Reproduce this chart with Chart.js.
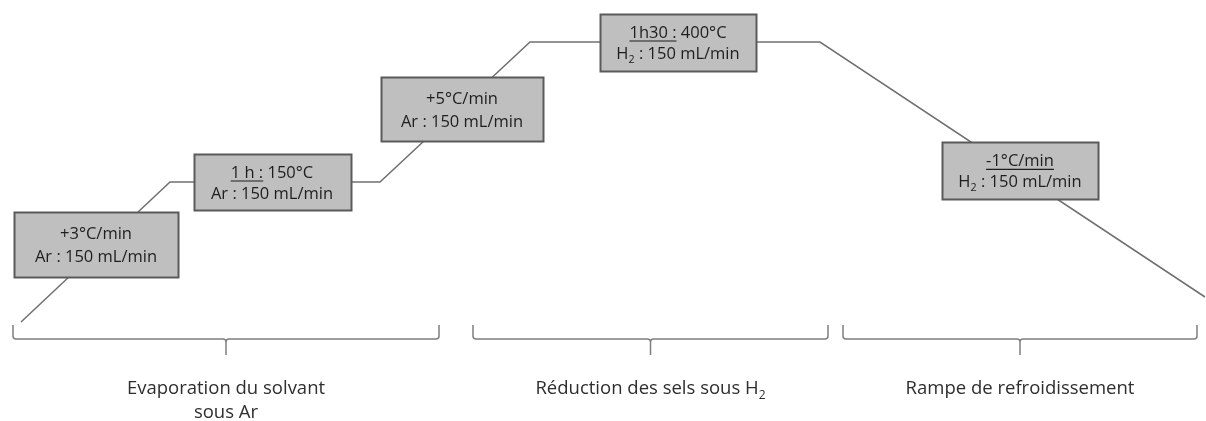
<!DOCTYPE html>
<html>
<head>
<meta charset="utf-8">
<script src="https://cdn.jsdelivr.net/npm/chart.js@4/dist/chart.umd.min.js"></script>
<style>
  html, body { margin: 0; padding: 0; background: #fff; }
  canvas { display: block; }
</style>
</head>
<body>
<canvas id="profileChart" width="1206" height="421"></canvas>
<script>
// schematic temperature programme (arbitrary units)
const times = [21, 170, 380, 530, 820, 1205];
const levels = [99, 239, 239, 379, 379, 124];

const phaseNames = [['Evaporation du solvant', 'sous Ar'], ['Réduction des sels sous H|2'], ['Rampe de refroidissement']];

const stepTexts = [
  [[{ t: '+3°C/min' }], [{ t: 'Ar : 150 mL/min' }]],
  [[{ t: '1 h :', u: true }, { t: ' 150°C' }], [{ t: 'Ar : 150 mL/min' }]],
  [[{ t: '+5°C/min' }], [{ t: 'Ar : 150 mL/min' }]],
  [[{ t: '1h30 :', u: true }, { t: ' 400°C' }], [{ t: 'H' }, { t: '2', sub: true }, { t: ' : 150 mL/min' }]],
  [[{ t: '-1°C/min', u: true }], [{ t: 'H' }, { t: '2', sub: true }, { t: ' : 150 mL/min' }]]
];

const FONT = '"Open Sans", "Liberation Sans", sans-serif';

function lineY(x) {
  for (let i = 0; i < times.length - 1; i++) {
    if (x >= times[i] && x <= times[i + 1]) {
      const f = (x - times[i]) / (times[i + 1] - times[i]);
      return levels[i] + f * (levels[i + 1] - levels[i]);
    }
  }
  return levels[levels.length - 1];
}

function runWidth(ctx, runs, size) {
  let w = 0;
  runs.forEach(r => {
    ctx.font = (r.sub ? size * 0.65 : size) + 'px ' + FONT;
    w += ctx.measureText(r.t).width;
  });
  return w;
}

function drawRuns(ctx, runs, cx, y, size, color) {
  let x = cx - runWidth(ctx, runs, size) / 2;
  ctx.fillStyle = color;
  ctx.strokeStyle = color;
  ctx.textBaseline = 'alphabetic';
  ctx.textAlign = 'left';
  runs.forEach(r => {
    ctx.font = (r.sub ? size * 0.65 : size) + 'px ' + FONT;
    const w = ctx.measureText(r.t).width;
    ctx.fillText(r.t, x, r.sub ? y + size * 0.25 : y);
    if (r.u) {
      ctx.lineWidth = 1.2;
      ctx.beginPath();
      ctx.moveTo(x, y + 3.5);
      ctx.lineTo(x + w, y + 3.5);
      ctx.stroke();
    }
    x += w;
  });
}

function parseLabel(s) {
  const parts = s.split('|');
  const runs = [{ t: parts[0] }];
  if (parts[1]) runs.push({ t: parts[1], sub: true });
  return runs;
}

const schemePlugin = {
  id: 'scheme',
  afterDatasetsDraw(chart, args, opts) {
    const { ctx, scales: { x, y } } = chart;
    ctx.save();

    // boxes on the profile
    opts.boxes.forEach((b, i) => {
      const cx = x.getPixelForValue(b.at);
      const cy = y.getPixelForValue(lineY(b.at)) + b.dy;
      const left = Math.round(cx - b.w / 2) + 0.5;
      const top = Math.round(cy - b.h / 2) + 0.5;
      ctx.fillStyle = '#bfbfbf';
      ctx.fillRect(left, top, b.w, b.h);
      ctx.strokeStyle = '#5a5a5a';
      ctx.lineWidth = 2;
      ctx.strokeRect(left, top, b.w, b.h);
      const lines = stepTexts[i];
      const gap = b.h > 60 ? 23 : 21;
      lines.forEach((ln, k) => {
        drawRuns(ctx, ln, cx, cy + (k - (lines.length - 1) / 2) * gap + 6, 16.5, '#1e1e1e');
      });
    });

    // braces under the phases
    opts.braces.forEach((br, i) => {
      const x0 = x.getPixelForValue(br[0]);
      const x1 = x.getPixelForValue(br[1]);
      const xm = (x0 + x1) / 2;
      const yb = 339;
      ctx.strokeStyle = '#7f7f7f';
      ctx.lineWidth = 1.5;
      ctx.beginPath();
      ctx.moveTo(x0, 325);
      ctx.lineTo(x0, yb - 3);
      ctx.quadraticCurveTo(x0, yb, x0 + 3, yb);
      ctx.lineTo(xm - 3, yb);
      ctx.quadraticCurveTo(xm, yb, xm, yb + 3);
      ctx.lineTo(xm, 355);
      ctx.moveTo(xm, yb + 3);
      ctx.quadraticCurveTo(xm, yb, xm + 3, yb);
      ctx.lineTo(x1 - 3, yb);
      ctx.quadraticCurveTo(x1, yb, x1, yb - 3);
      ctx.lineTo(x1, 325);
      ctx.stroke();

      phaseNames[i].forEach((s, k) => {
        drawRuns(ctx, parseLabel(s), xm, 394 + k * 24, 18.5, '#2e2e2e');
      });
    });

    ctx.restore();
  }
};

new Chart(document.getElementById('profileChart'), {
  type: 'line',
  data: {
    datasets: [{
      data: times.map((t, i) => ({ x: t, y: levels[i] })),
      borderColor: '#707070',
      borderWidth: 1.5,
      pointRadius: 0,
      tension: 0,
      fill: false
    }]
  },
  options: {
    responsive: false,
    animation: false,
    layout: { padding: 0 },
    plugins: {
      legend: { display: false },
      tooltip: { enabled: false },
      scheme: {
        boxes: [
          { at: 96, dy: -7, w: 164, h: 65 },
          { at: 272, dy: 0, w: 157, h: 56 },
          { at: 462, dy: 4, w: 162, h: 64 },
          { at: 678, dy: 0, w: 156, h: 57 },
          { at: 1020, dy: -4, w: 156, h: 57 }
        ],
        braces: [[13, 439], [473, 828], [843, 1197]]
      }
    },
    scales: {
      x: { type: 'linear', min: 0, max: 1206, display: false },
      y: { min: 0, max: 421, display: false }
    }
  },
  plugins: [schemePlugin]
});
</script>
</body>
</html>
